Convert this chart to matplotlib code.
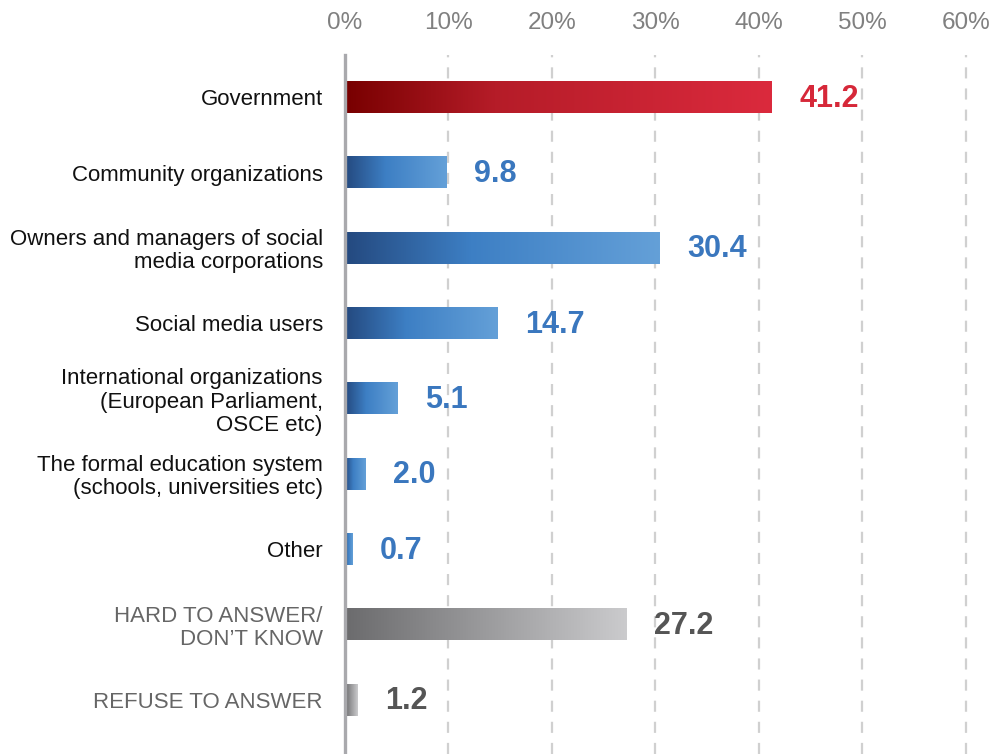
import numpy as np
import matplotlib
matplotlib.use("Agg")
import matplotlib.pyplot as plt
from matplotlib.colors import LinearSegmentedColormap

# Survey answers: who should be responsible (share of respondents, %)
categories = [
    "Government",
    "Community organizations",
    "Owners and managers of social\nmedia corporations",
    "Social media users",
    "International organizations\n(European Parliament,\nOSCE etc)",
    "The formal education system\n(schools, universities etc)",
    "Other",
    "HARD TO ANSWER/\nDON\u2019T KNOW",
    "REFUSE TO ANSWER",
]
values = [41.2, 9.8, 30.4, 14.7, 5.1, 2.0, 0.7, 27.2, 1.2]
groups = ["red", "blue", "blue", "blue", "blue", "blue", "blue", "gray", "gray"]
x_ticks = [0, 10, 20, 30, 40, 50, 60]
x_tick_labels = ["0%", "10%", "20%", "30%", "40%", "50%", "60%"]

plt.rcParams["font.family"] = ["Liberation Sans", "DejaVu Sans"]

cmaps = {
    "red": LinearSegmentedColormap.from_list(
        "red_grad", [(0, "#780000"), (0.35, "#b51c28"), (1, "#db2a3d")]),
    "blue": LinearSegmentedColormap.from_list(
        "blue_grad", [(0, "#24497f"), (0.4, "#3d7fc4"), (1, "#64a0d8")]),
    "gray": LinearSegmentedColormap.from_list(
        "gray_grad", [(0, "#6b6b6d"), (1, "#cbcbcd")]),
}
label_colors = {"red": "#d62839", "blue": "#3a77be", "gray": "#555555"}
cat_colors = {"red": "#111111", "blue": "#111111", "gray": "#666666"}

fig = plt.figure(figsize=(10.04, 7.54), dpi=100)
ax = fig.add_axes([345 / 1004, 0.0, 1 - 345 / 1004, 1 - 55 / 754])

bar_h = 0.424
grad = np.linspace(0, 1, 256).reshape(1, -1)
ypos = np.arange(len(categories))

for y, v, g in zip(ypos, values, groups):
    ax.imshow(grad, cmap=cmaps[g], aspect="auto", interpolation="bilinear",
              extent=[0, v, y + bar_h / 2, y - bar_h / 2], zorder=3)
    ax.annotate(f"{v:.1f}", xy=(v, y + 0.02), xytext=(20, 0), textcoords="offset points",
                ha="left", va="center", fontsize=22, fontweight="bold",
                color=label_colors[g], zorder=4)

xmax = (1004 - 345) / 10.35
ax.set_xlim(0, xmax)
ax.set_ylim(len(categories) - 1 + 0.72, -0.56)

# Dashed vertical grid
for t in x_ticks[1:]:
    ax.axvline(t, color="#d0d0d0", lw=1.6, linestyle=(0, (5, 4.5)), zorder=1)

ax.xaxis.tick_top()
ax.set_xticks(x_ticks)
ax.set_xticklabels(x_tick_labels, fontsize=17.5, color="#808080")
ax.tick_params(axis="x", length=0, pad=15)

ax.set_yticks(ypos)
ax.set_yticklabels(categories, fontsize=16, linespacing=1.13)
for lbl, g in zip(ax.get_yticklabels(), groups):
    lbl.set_color(cat_colors[g])
ax.tick_params(axis="y", length=0, pad=16)

for s in ["top", "right", "bottom"]:
    ax.spines[s].set_visible(False)
ax.spines["left"].set_color("#a9a9ad")
ax.spines["left"].set_linewidth(2.4)
ax.spines["left"].set_zorder(5)

fig.savefig("out.png", dpi=100)
